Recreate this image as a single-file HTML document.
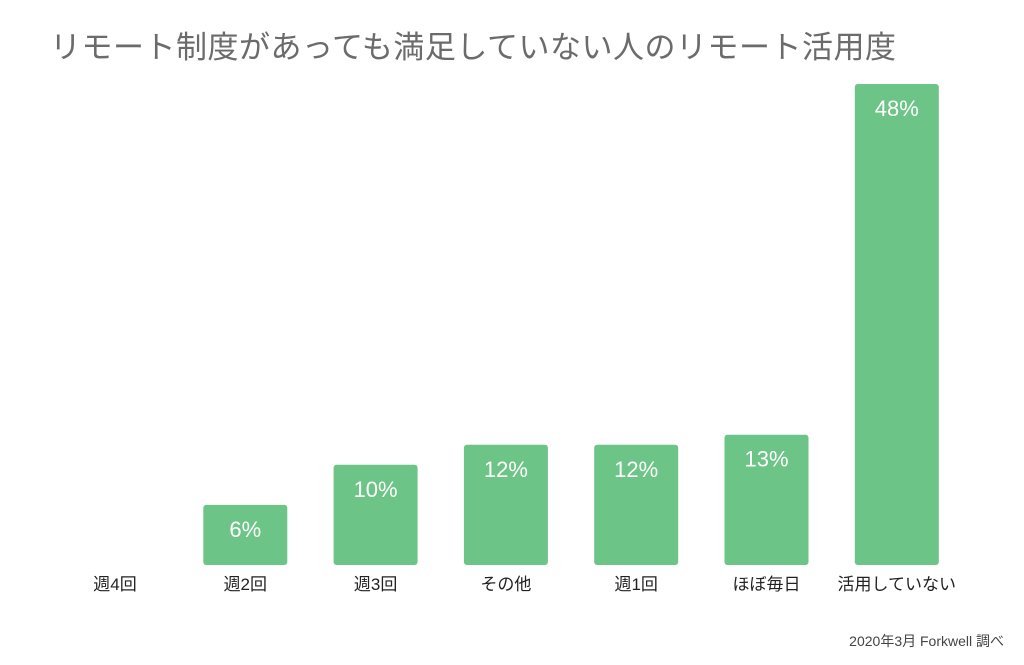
<!DOCTYPE html>
<html><head><meta charset="utf-8">
<style>
body{margin:0;background:#fff;width:1024px;height:665px;overflow:hidden;font-family:"Liberation Sans","Noto Sans CJK JP",sans-serif;}
#title{position:absolute;left:50px;top:22px;font-size:31px;color:#6b6b6b;white-space:nowrap;letter-spacing:0.5px}
#foot{position:absolute;right:20px;top:631px;font-size:14px;color:#444}
svg{position:absolute;left:0;top:0}
</style></head><body>
<div id="title">リモート制度があっても満足していない人のリモート活用度</div>
<svg id="chart" width="1024" height="665"></svg>
<div id="foot">2020年3月 Forkwell 調べ</div>
<script>
const categories=["週4回","週2回","週3回","その他","週1回","ほぼ毎日","活用していない"];
const values=[0,6,10,12,12,13,48];
const valueLabels=["","6%","10%","12%","12%","13%","48%"];
const svg=document.getElementById('chart');
const NS="http://www.w3.org/2000/svg";
const baseY=565, pxPer=10.02, x0=115, step=130.3, bw=84;
function xPos(i){return x0+i*step;}
function yPos(v){return baseY-v*pxPer;}
categories.forEach((c,i)=>{
  const cx=xPos(i);
  if(values[i]>0){
    const r=document.createElementNS(NS,'rect');
    
    
    r.setAttribute('x',cx-bw/2);r.setAttribute('y',yPos(values[i]));
    r.setAttribute('width',bw);r.setAttribute('height',baseY-yPos(values[i]));
    r.setAttribute('rx',3);r.setAttribute('fill','#6cc586');
    svg.appendChild(r);
    const t=document.createElementNS(NS,'text');
    
    
    t.setAttribute('x',cx);t.setAttribute('y',yPos(values[i])+32);
    t.setAttribute('text-anchor','middle');t.setAttribute('font-size','22');
    t.setAttribute('fill','#fff');
    t.textContent=valueLabels[i];
    svg.appendChild(t);
  }
  const l=document.createElementNS(NS,'text');
  
  
  l.setAttribute('x',cx);l.setAttribute('y',590);
  l.setAttribute('text-anchor','middle');l.setAttribute('font-size','17');
  l.setAttribute('fill','#222');
  l.textContent=c;
  svg.appendChild(l);
});
</script>
</body></html>
